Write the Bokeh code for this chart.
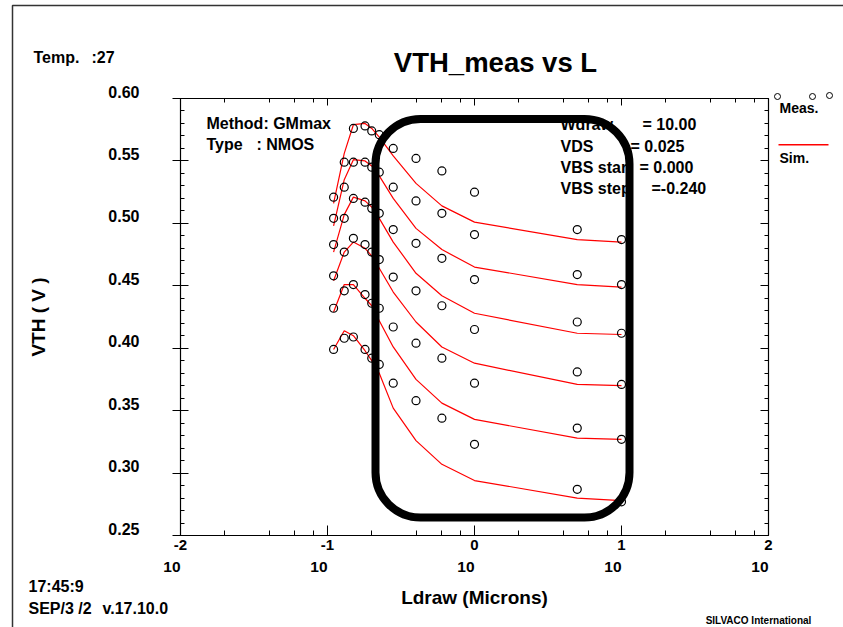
from bokeh.plotting import figure
from bokeh.models import (Label, BoxAnnotation, FixedTicker, Range1d, LogAxis,
                          LinearAxis, CustomJSTickFormatter, GridBox)
from bokeh.embed import file_html
from bokeh.resources import INLINE

# ---------------- data ----------------
ldraw = [0.11, 0.13, 0.15, 0.18, 0.20, 0.225, 0.28, 0.40, 0.60, 1.0, 5.0, 10.0]

meas_vbs_000 = [0.521, 0.549, 0.576, 0.578, 0.574, 0.571, 0.560, 0.552, 0.542, 0.525, 0.495, 0.487]
meas_vbs_024 = [0.504, 0.529, 0.549, 0.549, 0.545, 0.541, 0.529, 0.518, 0.508, 0.491, 0.459, 0.451]
meas_vbs_048 = [0.483, 0.504, 0.520, 0.517, 0.512, 0.508, 0.495, 0.484, 0.472, 0.455, 0.421, 0.412]
meas_vbs_072 = [0.458, 0.477, 0.488, 0.483, 0.477, 0.471, 0.457, 0.446, 0.434, 0.415, 0.381, 0.371]
meas_vbs_096 = [0.432, 0.446, 0.451, 0.443, 0.436, 0.432, 0.417, 0.404, 0.392, 0.372, 0.336, 0.327]
meas_vbs_120 = [0.399, 0.408, 0.409, 0.399, 0.392, 0.387, 0.372, 0.358, 0.344, 0.323, 0.287, 0.277]

sim_vbs_000 = [0.516, 0.556, 0.579, 0.580, 0.576, 0.569, 0.554, 0.532, 0.514, 0.501, 0.487, 0.485]
sim_vbs_024 = [0.498, 0.535, 0.551, 0.550, 0.546, 0.538, 0.520, 0.496, 0.479, 0.465, 0.451, 0.449]
sim_vbs_048 = [0.477, 0.507, 0.521, 0.518, 0.513, 0.504, 0.485, 0.460, 0.442, 0.428, 0.412, 0.411]
sim_vbs_072 = [0.454, 0.477, 0.485, 0.480, 0.474, 0.464, 0.445, 0.421, 0.401, 0.388, 0.371, 0.370]
sim_vbs_096 = [0.429, 0.451, 0.451, 0.440, 0.434, 0.422, 0.401, 0.375, 0.356, 0.343, 0.328, 0.327]
sim_vbs_120 = [0.399, 0.414, 0.410, 0.398, 0.390, 0.380, 0.352, 0.326, 0.307, 0.294, 0.280, 0.278]

meas_series = [meas_vbs_000, meas_vbs_024, meas_vbs_048, meas_vbs_072, meas_vbs_096, meas_vbs_120]
sim_series = [sim_vbs_000, sim_vbs_024, sim_vbs_048, sim_vbs_072, sim_vbs_096, sim_vbs_120]

x_major = [0.01, 0.1, 1.0, 10.0, 100.0]
y_major = [0.25, 0.30, 0.35, 0.40, 0.45, 0.50, 0.55, 0.60]

title_text = "VTH_meas vs L"
x_title = "Ldraw (Microns)"
y_title = "VTH ( V )"
info_left = [("Method: GMmax", None), ("Type", ": NMOS")]
info_right = [("Wdraw", "= 10.00"), ("VDS", "= 0.025"), ("VBS start", "= 0.000"), ("VBS step", "=-0.240")]

# ---------------- layout constants ----------------
W, H = 843, 627
FL, FR, FT, FB = 180, 768, 98, 535
FONT = "Liberation Sans"


def xd(px):
    return 10 ** (-2 + 4.0 * (px - FL) / (FR - FL))


def yd(py):
    return 0.60 - 0.35 * (py - FT) / (FB - FT)


# ---------------- page (background sheet) ----------------
pg = figure(width=W, height=H, x_range=Range1d(0, W), y_range=Range1d(H, 0),
            output_backend="svg", toolbar_location=None, min_border=0,
            x_axis_location=None, y_axis_location=None)
pg.frame_align = False
pg.outline_line_color = None
pg.background_fill_color = "white"
pg.border_fill_color = "white"
pg.xgrid.visible = False
pg.ygrid.visible = False


def plab(text, x, y, size, align="left"):
    pg.add_layout(Label(x=x, y=y, text=text, text_font=FONT,
                        text_font_size=f"{size}px", text_font_style="bold",
                        text_color="black", text_align=align,
                        text_baseline="middle"))


plab(title_text, 495, 62, 27.5, "center")
plab("Temp.", 33, 57, 16)
plab(":27", 91, 57, 16)
plab("17:45:9", 28, 586, 16)
plab("SEP/3 /2", 28, 608, 16)
plab("v.17.10.0", 102, 608, 16)
plab("SILVACO International", 758, 620, 10, "center")
plab("Meas.", 779, 107, 14)
plab("Sim.", 779, 157, 14)

# legend marks
pg.scatter([777, 812, 829], [96, 96, 95], marker="circle", size=6,
           fill_color=None, line_color="black", line_width=1)
pg.line([778, 828], [144.3, 144.3], line_color="red", line_width=1.5)
# sheet border
pg.line([12, 12, W], [H, 5, 5], line_color="#333333", line_width=1.5)

# ---------------- chart ----------------
p = figure(width=W, height=H, x_axis_type="log",
           x_range=Range1d(0.01, 100), y_range=Range1d(0.25, 0.60),
           output_backend="svg", toolbar_location=None,
           min_border_left=FL, min_border_right=W - FR,
           min_border_top=FT, min_border_bottom=H - FB)
p.frame_align = False
p.grid.visible = False
p.outline_line_color = None
p.background_fill_alpha = 0
p.border_fill_alpha = 0

x_minor = [m * 10 ** k for k in range(-2, 2) for m in (2, 4, 6, 8)]
y_minor = [round(0.25 + 0.01 * i, 3) for i in range(36)]

p.add_layout(LogAxis(), "above")
p.add_layout(LinearAxis(), "right")
p.add_layout(LogAxis(), "below")

for ax in p.xaxis:
    ax.ticker = FixedTicker(ticks=x_major, minor_ticks=x_minor)
for ax in p.yaxis:
    ax.ticker = FixedTicker(ticks=y_major, minor_ticks=y_minor)

for ax in list(p.xaxis) + list(p.yaxis):
    ax.axis_line_color = "black"
    ax.axis_line_width = 1.2
    ax.major_tick_line_color = "black"
    ax.minor_tick_line_color = "black"
    ax.major_label_text_font = FONT
    ax.major_label_text_font_style = "bold"
    ax.major_label_text_color = "black"
    ax.axis_label_text_font = FONT
    ax.axis_label_text_font_style = "bold"
    ax.axis_label_text_color = "black"

below, below2 = p.below[0], p.below[1]
above, left, right = p.above[0], p.left[0], p.right[0]

blank = CustomJSTickFormatter(code="return ''")
for ax in (above, right):
    ax.formatter = blank
    ax.major_label_text_font_size = "1px"
    ax.major_label_standoff = 0
above.major_tick_in, above.major_tick_out = 7, 0
above.minor_tick_in, above.minor_tick_out = 4, 0
right.major_tick_in, right.major_tick_out = 8, 0
right.minor_tick_in, right.minor_tick_out = 4, 0

left.major_tick_in, left.major_tick_out = 8, 8
left.minor_tick_in, left.minor_tick_out = 4, 0
# a second, empty line under each label lifts the number slightly above its tick
left.formatter = CustomJSTickFormatter(code="return tick.toFixed(2) + '\\n\\u00a0'")
left.major_label_text_font_size = "16px"
left.major_label_text_line_height = 0.75
left.major_label_standoff = 33
left.axis_label = y_title
left.axis_label_text_font_size = "19px"
left.axis_label_standoff = 56

below.major_tick_in, below.major_tick_out = 10, 0
below.minor_tick_in, below.minor_tick_out = 5, 0
below.formatter = CustomJSTickFormatter(code="return String(Math.round(Math.log10(tick)))")
below.major_label_text_font_size = "15px"
below.major_label_standoff = 4

below2.axis_line_color = None
below2.major_tick_line_color = None
below2.minor_tick_line_color = None
below2.major_tick_in = below2.major_tick_out = 0
below2.minor_tick_in = below2.minor_tick_out = 0
below2.formatter = CustomJSTickFormatter(code="return '10\u00a0\u00a0\u00a0\u00a0'")
below2.major_label_text_font_size = "15.5px"
below2.major_label_standoff = 5
below2.axis_label = x_title
below2.axis_label_text_font_size = "19px"
below2.axis_label_standoff = 9

# data marks
for sim in sim_series:
    p.line(ldraw, sim, line_color="red", line_width=1.2)
for meas in meas_series:
    p.scatter(ldraw, meas, marker="circle", size=8, fill_color=None,
              line_color="black", line_width=1.2)


def lab(text, px, py, size):
    p.add_layout(Label(x=xd(px), y=yd(py), text=text, text_font=FONT,
                       text_font_size=f"{size}px", text_font_style="bold",
                       text_color="black", text_align="left",
                       text_baseline="middle"))


lab(info_left[0][0], 206, 123, 16)
lab(info_left[1][0], 206, 144, 16)
lab(info_left[1][1], 256, 144, 16)
rows_y = [124, 146, 167, 188]
val_x = [642, 630, 639, 651]
for (k, v), py, vx in zip(info_right, rows_y, val_x):
    lab(k, 560, py, 16)
    lab(v, vx, py, 16)

# highlight box drawn over the chart
p.add_layout(BoxAnnotation(left=xd(375), right=xd(629), top=yd(118.5), bottom=yd(517),
                           border_radius=45, fill_alpha=0, line_color="black",
                           line_alpha=1, line_width=8))

page = GridBox(children=[(pg, 0, 0), (p, 0, 0)])
open("out.html", "w").write(file_html(page, INLINE))
